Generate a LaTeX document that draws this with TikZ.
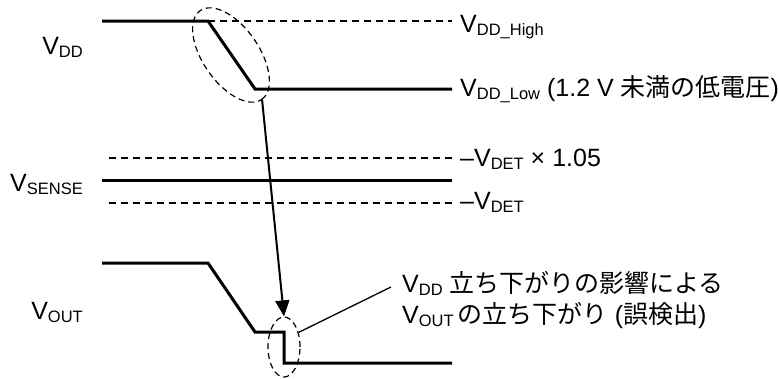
\documentclass[tikz,border=0pt]{standalone}
\usepackage{fontspec}
\setmainfont{Liberation Sans}
\newfontfamily\jp{Noto Sans CJK JP}
\usetikzlibrary{arrows.meta,shapes.geometric}

\newcommand{\lowidx}[1]{\raisebox{-0.12em}{\fontsize{16.5}{17}\selectfont #1}}

\begin{document}
\begin{tikzpicture}[x=1pt,y=-1pt,
  every node/.style={font=\fontsize{25}{30}\selectfont, inner sep=0pt},
  wave/.style={line width=3pt},
  level/.style={line width=1.2pt, dash pattern=on 7pt off 5pt},
  marker/.style={draw, ellipse, line width=1.2pt, dash pattern=on 6pt off 4pt}]

\useasboundingbox (0,0) rectangle (779,378);

% VDD waveform
\coordinate (D0) at (102,21);
\coordinate (D1) at (208,21);
\coordinate (D2) at (255,89);
\coordinate (D3) at (452,89);
\coordinate (DH) at (452,21);
\draw[wave] (D0) -- (D1) -- (D2) -- (D3);
\draw[level] (D1) -- (DH);

% VSENSE levels
\coordinate (S0) at (102,180);
\coordinate (S1) at (452,180);
\coordinate (U0) at (109,158);
\coordinate (U1) at (452,158);
\coordinate (L0) at (109,203);
\coordinate (L1) at (452,203);
\draw[level] (U0) -- (U1);
\draw[wave] (S0) -- (S1);
\draw[level] (L0) -- (L1);

% VOUT waveform
\coordinate (O0) at (102,263);
\coordinate (O1) at (208,263);
\coordinate (O2) at (255,332);
\coordinate (O3) at (284,332);
\coordinate (O4) at (284,363);
\coordinate (O5) at (452,363);
\draw[wave] (O0) -- (O1) -- (O2) -- (O3) -- (O4) -- (O5);

% markers
\node[marker, rotate=-55.3, minimum width=108pt, minimum height=56pt] (dropVDD) at (231,55) {};
\node[marker, minimum width=32pt, minimum height=60pt] (dropVOUT) at (284,347) {};
\draw[line width=2pt, -{Triangle[length=16pt,width=14pt]}] (dropVDD.east) -- (dropVOUT.north);

% left labels
\node[anchor=base east] (lVDD) at (83,54) {V\lowidx{DD}};
\node[anchor=base east] (lVSENSE) at (83,191) {V\lowidx{SENSE}};
\node[anchor=base east] (lVOUT) at (83,319) {V\lowidx{OUT}};

% right labels
\node[anchor=base west] (lHigh) at (460,32) {V\lowidx{DD\_High}};
\node[anchor=base west] (lLow) at (460,96) {V\lowidx{DD\_Low} (1.2 V {\jp 未満の低電圧})};
\node[anchor=base west] (lUpper) at (460,166) {–V\lowidx{DET} × 1.05};
\node[anchor=base west] (lDet) at (460,209) {–V\lowidx{DET}};

% note
\node[anchor=base west] (note1) at (402,292) {V\lowidx{DD} {\jp 立ち下がりの影響による}};
\node[anchor=base west] (note2) at (402,323) {V\lowidx{OUT}\,{\jp の立ち下がり}\ ({\jp 誤検出})};
\coordinate (noteEnd) at (391,287);
\draw[line width=1.3pt] (dropVOUT.45) -- (noteEnd);

\end{tikzpicture}
\end{document}
